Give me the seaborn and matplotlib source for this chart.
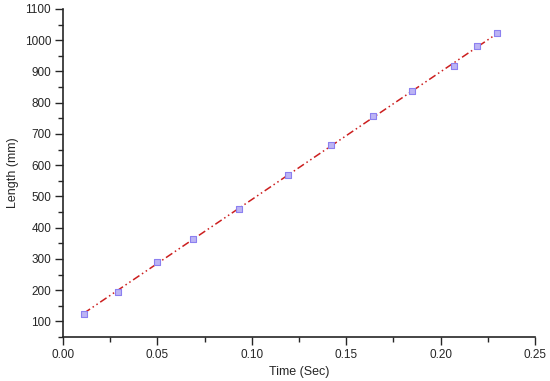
import numpy as np
import pandas as pd
import matplotlib
matplotlib.use("Agg")
import matplotlib.pyplot as plt
from matplotlib.ticker import MultipleLocator
import seaborn as sns

# values
time_sec = [0.011, 0.029, 0.050, 0.069, 0.093, 0.119, 0.142, 0.164, 0.185, 0.207, 0.219, 0.230]
length_mm = [125, 195, 290, 363, 460, 569, 666, 756, 836, 917, 981, 1023]

df = pd.DataFrame({"Time (Sec)": time_sec, "Length (mm)": length_mm})

sns.set_style("ticks")
plt.rcParams["font.family"] = ["Liberation Sans", "DejaVu Sans"]

fig = plt.figure(figsize=(5.5, 3.81), dpi=100)
ax = fig.add_axes([0.1145, 0.1155, 0.8585, 0.861])

# linear fit drawn as red dash-dot-dot line
coef = np.polyfit(df["Time (Sec)"], df["Length (mm)"], 1)
fit = pd.DataFrame({"x": df["Time (Sec)"], "y": np.polyval(coef, df["Time (Sec)"])})
sns.lineplot(data=fit, x="x", y="y", ax=ax, color="#cc1f1f", lw=1.1,
             dashes=False, zorder=2)
ax.lines[-1].set_dashes([5, 2, 1, 2, 1, 2])

sns.scatterplot(data=df, x="Time (Sec)", y="Length (mm)", ax=ax, marker="s",
                s=19, color="#bcb4f4", edgecolor="#8c80f0", linewidth=0.8, zorder=3)

ax.set_xlim(0, 0.25)
ax.set_ylim(50, 1100)
ax.xaxis.set_major_locator(MultipleLocator(0.05))
ax.xaxis.set_minor_locator(MultipleLocator(0.025))
ax.yaxis.set_major_locator(MultipleLocator(100))
ax.yaxis.set_minor_locator(MultipleLocator(50))
ax.set_yticks(np.arange(100, 1101, 100))
ax.xaxis.set_major_formatter(matplotlib.ticker.FormatStrFormatter("%.2f"))

ax.tick_params(which="major", length=6, width=1, labelsize=8.5, direction="out",
               pad=2.5)
ax.tick_params(which="minor", length=3.5, width=1, direction="out")
for sp in ["left", "bottom"]:
    ax.spines[sp].set_linewidth(1.2)
sns.despine(ax=ax)

ax.set_xlabel("Time (Sec)", fontsize=9)
ax.set_ylabel("Length (mm)", fontsize=9)

fig.savefig("out.png", dpi=100)
